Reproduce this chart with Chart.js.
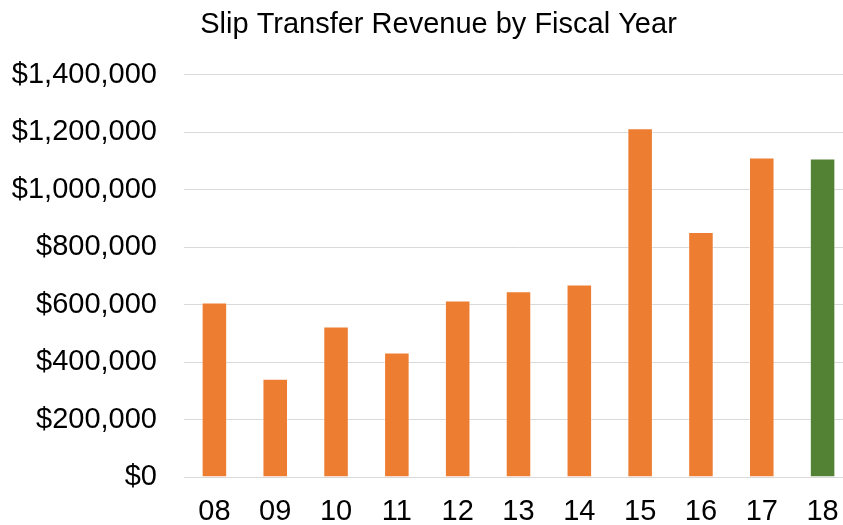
<!DOCTYPE html>
<html>
<head>
<meta charset="utf-8">
<script src="https://cdn.jsdelivr.net/npm/chart.js@4"></script>
<style>
  html, body { margin:0; padding:0; background:#fff; overflow:hidden; }
  #wrap { width:853px; height:525px; position:relative; }
</style>
</head>
<body>
<div id="wrap"><canvas id="c"></canvas></div>
<script>
// fiscal years and revenue
const years   = ['08','09','10','11','12','13','14','15','16','17','18'];
const revenue = [607000, 342000, 524000, 433000, 614000, 647000, 670000, 1214000, 853000, 1112000, 1109000];
const yTicks  = [0, 200000, 400000, 600000, 800000, 1000000, 1200000, 1400000];
const currentYear = '18';

const ORANGE = '#ED7D31', GREEN = '#548235';
const money = v => '$' + v.toLocaleString('en-US');

Chart.defaults.font.family = '"Liberation Sans", Arial, sans-serif';
Chart.defaults.color = '#000';

// the source title sits a bit right of the canvas centre
const titleNudge = {
  id: 'titleNudge',
  afterLayout(chart) {
    if (chart.titleBlock) chart.titleBlock.left += 24;
  }
};

new Chart(document.getElementById('c'), {
  type: 'bar',
  data: {
    labels: years,
    datasets: [{
      data: revenue,
      backgroundColor: years.map(y => y === currentYear ? GREEN : ORANGE),
      borderColor: 'rgba(255,255,255,0.45)',
      borderWidth: 1,
      barPercentage: 0.42,
      categoryPercentage: 1
    }]
  },
  plugins: [titleNudge],
  options: {
    responsive: true,
    maintainAspectRatio: false,
    animation: false,
    layout: { padding: 0 },
    plugins: {
      legend: { display: false },
      tooltip: { enabled: false },
      title: {
        display: true,
        text: 'Slip Transfer Revenue by Fiscal Year',
        font: { size: 29, weight: 'normal' },
        color: '#000',
        padding: { top: 8, bottom: 32 }
      }
    },
    scales: {
      x: {
        grid: { display: false },
        border: { display: false },
        ticks: { font: { size: 29 }, padding: 10 },
        afterFit: ax => { ax.height = 48; }
      },
      y: {
        min: 0, max: 1400000,
        afterBuildTicks: ax => { ax.ticks = yTicks.map(v => ({ value: v })); },
        grid: { color: '#d9d9d9', lineWidth: 1, drawTicks: false },
        border: { display: false },
        ticks: { font: { size: 29 }, padding: 27, callback: v => money(v) },
        afterFit: ax => { ax.width = 184; }
      }
    }
  }
});
</script>
</body>
</html>
